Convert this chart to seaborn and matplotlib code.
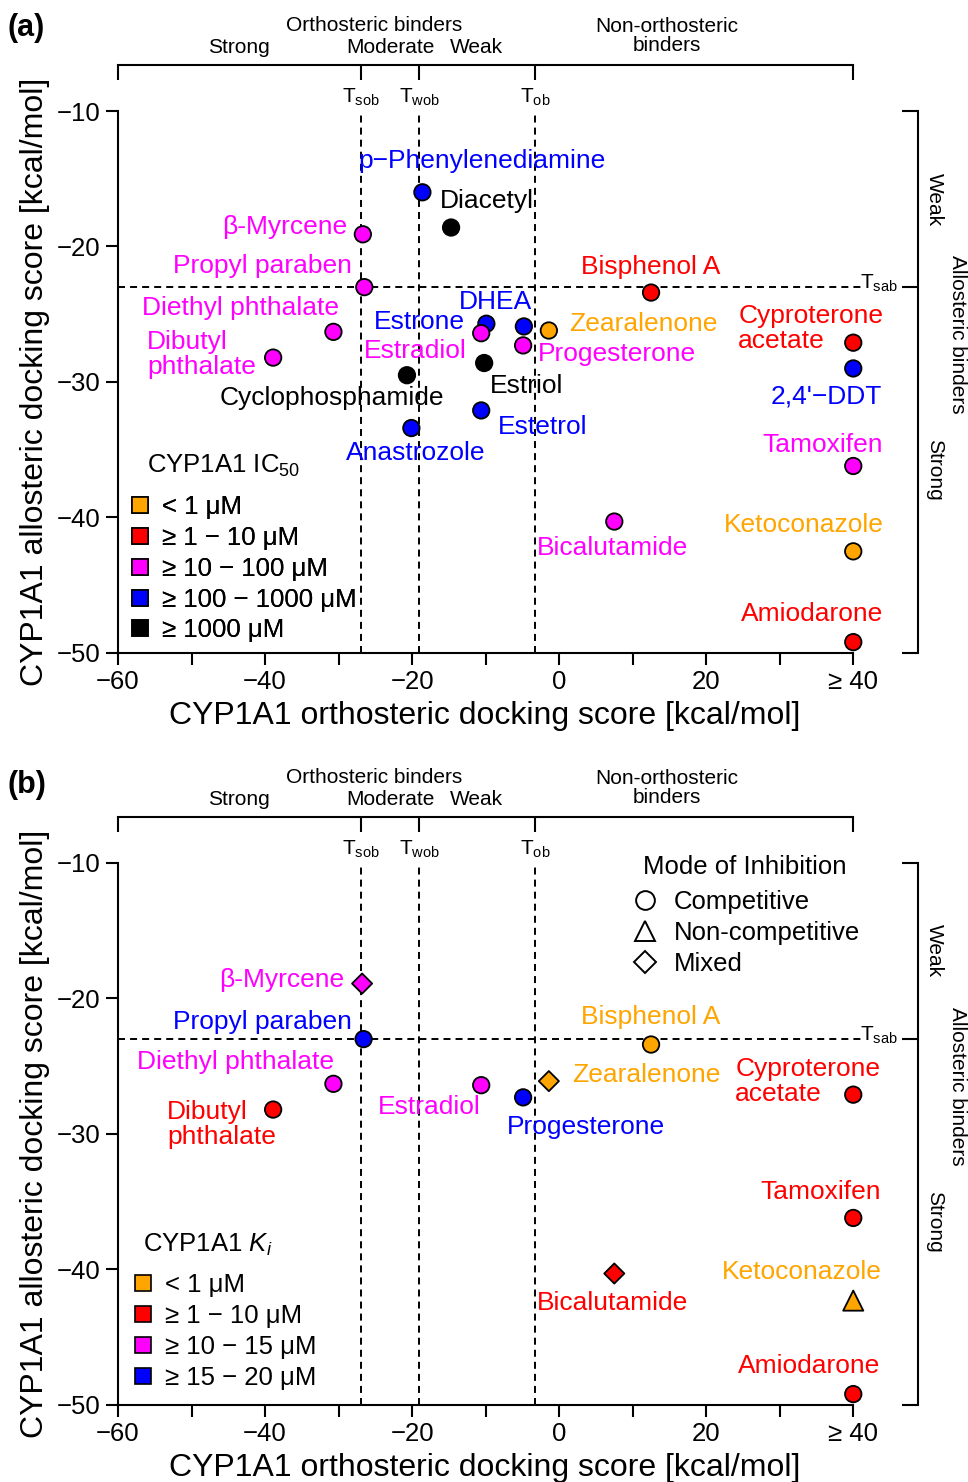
import matplotlib
matplotlib.use("Agg")
import matplotlib.pyplot as plt
import seaborn as sns
import pandas as pd
from matplotlib.lines import Line2D

# thresholds (kcal/mol)
T_SOB = -27.0
T_WOB = -19.0
T_OB = -3.3
T_SAB = -23.0

# panel (a): IC50
a_names = ["p−Phenylenediamine", "Diacetyl", "β-Myrcene", "Propyl paraben", "Diethyl phthalate",
           "Dibutyl\nphthalate", "Estrone", "Estradiol", "DHEA", "Zearalenone", "Progesterone",
           "Estriol", "Cyclophosphamide", "Estetrol", "Anastrozole", "Bisphenol A",
           "Cyproterone\nacetate", "2,4'−DDT", "Tamoxifen", "Bicalutamide", "Ketoconazole", "Amiodarone"]
a_ortho = [-18.6, -14.7, -26.7, -26.5, -30.7, -38.9, -9.9, -10.6, -4.8, -1.4, -4.9,
           -10.2, -20.7, -10.6, -20.1, 12.5, 40, 40, 40, 7.5, 40, 40]
a_allo = [-16.0, -18.6, -19.1, -23.0, -26.3, -28.2, -25.7, -26.4, -25.9, -26.2, -27.3,
          -28.6, -29.5, -32.1, -33.4, -23.4, -27.1, -29.0, -36.2, -40.3, -42.5, -49.2]
a_ic50 = ["100-1000", ">1000", "10-100", "10-100", "10-100", "10-100", "100-1000", "10-100",
          "100-1000", "<1", "10-100", ">1000", ">1000", "100-1000", "100-1000", "1-10",
          "1-10", "100-1000", "10-100", "10-100", "<1", "1-10"]
a_classes = ["<1", "1-10", "10-100", "100-1000", ">1000"]
a_class_labels = ["< 1 μM", "≥ 1 − 10 μM", "≥ 10 − 100 μM", "≥ 100 − 1000 μM", "≥ 1000 μM"]

# panel (b): Ki and mode of inhibition
b_names = ["β-Myrcene", "Propyl paraben", "Bisphenol A", "Diethyl phthalate", "Dibutyl\nphthalate",
           "Estradiol", "Progesterone", "Zearalenone", "Cyproterone\nacetate", "Tamoxifen",
           "Bicalutamide", "Ketoconazole", "Amiodarone"]
b_ortho = [-26.8, -26.6, 12.5, -30.7, -38.9, -10.6, -4.9, -1.4, 40, 40, 7.5, 40, 40]
b_allo = [-18.9, -23.0, -23.4, -26.3, -28.2, -26.4, -27.3, -26.1, -27.1, -36.2, -40.3, -42.3, -49.2]
b_ki = ["10-15", "15-20", "<1", "10-15", "1-10", "10-15", "15-20", "<1", "1-10", "1-10",
        "1-10", "<1", "1-10"]
b_mode = ["Mixed", "Competitive", "Competitive", "Competitive", "Competitive", "Competitive",
          "Competitive", "Mixed", "Competitive", "Competitive", "Mixed", "Non-competitive", "Competitive"]
b_classes = ["<1", "1-10", "10-15", "15-20"]
b_class_labels = ["< 1 μM", "≥ 1 − 10 μM", "≥ 10 − 15 μM", "≥ 15 − 20 μM"]
modes = ["Competitive", "Non-competitive", "Mixed"]

xtick_vals = [-60, -50, -40, -30, -20, -10, 0, 10, 20, 30, 40]
xtick_labels = ["−60", "", "−40", "", "−20", "", "0", "", "20", "", "≥ 40"]
ytick_vals = [-10, -20, -30, -40, -50]
ytick_labels = ["−10", "−20", "−30", "−40", "−50"]

ORANGE, RED, MAGENTA, BLUE = "#FFA500", "#FF0000", "#FF00FF", "#0000FF"
pal_a = {"<1": ORANGE, "1-10": RED, "10-100": MAGENTA, "100-1000": BLUE, ">1000": "black"}
pal_b = {"<1": ORANGE, "1-10": RED, "10-15": MAGENTA, "15-20": BLUE}
mode_markers = {"Competitive": "o", "Non-competitive": "^", "Mixed": "D"}
mode_sizes = {"Competitive": 140, "Non-competitive": 210, "Mixed": 105}

# label offsets in pixels (dx, dy, ha)
a_offsets = {
    "p−Phenylenediamine": (-64, 31, "left"), "Diacetyl": (-11, 27, "left"),
    "β-Myrcene": (-16, 7, "right"), "Propyl paraben": (-12, 21, "right"),
    "Diethyl phthalate": (6, 24, "right"), "Dibutyl\nphthalate": (-17, 3, "right"),
    "Estrone": (-21, 2, "right"), "Estradiol": (-15, -18, "right"), "DHEA": (8, 24, "right"),
    "Zearalenone": (20, 6, "left"), "Progesterone": (15, -9, "left"), "Estriol": (6, -23, "left"),
    "Cyclophosphamide": (-75, -23, "center"), "Estetrol": (17, -17, "left"),
    "Anastrozole": (4, -25, "center"), "Bisphenol A": (0, 26, "center"),
    "Cyproterone\nacetate": (30, 14, "right"), "2,4'−DDT": (29, -28, "right"),
    "Tamoxifen": (30, 21, "right"), "Bicalutamide": (-2, -26, "center"),
    "Ketoconazole": (30, 26, "right"), "Amiodarone": (30, 28, "right"),
}
b_offsets = {
    "β-Myrcene": (-18, 4, "right"), "Propyl paraben": (-12, 17, "right"),
    "Bisphenol A": (0, 28, "center"), "Diethyl phthalate": (1, 22, "right"),
    "Dibutyl\nphthalate": (3, -15, "right"), "Estradiol": (-1, -22, "right"),
    "Progesterone": (-16, -30, "left"), "Zearalenone": (23, 6, "left"),
    "Cyproterone\nacetate": (27, 13, "right"), "Tamoxifen": (28, 26, "right"),
    "Bicalutamide": (-2, -29, "center"), "Ketoconazole": (28, 29, "right"),
    "Amiodarone": (27, 28, "right"),
}

sns.set_style("ticks")
plt.rcParams["font.family"] = ["Liberation Sans", "DejaVu Sans"]
plt.rcParams["mathtext.fontset"] = "custom"
plt.rcParams["mathtext.rm"] = "Liberation Sans"
plt.rcParams["mathtext.it"] = "Liberation Sans:italic"
for k in ["text.color", "axes.labelcolor", "xtick.color", "ytick.color", "axes.edgecolor"]:
    plt.rcParams[k] = "black"

LW = 1.5
fig = plt.figure(figsize=(9.68, 14.82), dpi=100)
ax_a = fig.add_axes([0.1219, 0.5594, 0.8264, 0.3657])
ax_b = fig.add_axes([0.1219, 0.0520, 0.8264, 0.3657])


def decorate(ax):
    ax.set_xlim(-60, 48.8)
    ax.set_ylim(-50, -10)
    dash = dict(color="black", lw=1.4, linestyle=(0, (3.6, 2.6)), zorder=1)
    for t in [T_SOB, T_WOB, T_OB]:
        ax.axvline(t, **dash)
    ax.plot([-60, 41.2], [T_SAB, T_SAB], **dash)

    ax.spines[["top", "right"]].set_visible(False)
    ax.spines["bottom"].set_bounds(-60, 40)
    for s in ["left", "bottom"]:
        ax.spines[s].set_linewidth(LW)
    ax.set_xticks(xtick_vals)
    ax.set_xticklabels(xtick_labels)
    ax.set_yticks(ytick_vals)
    ax.set_yticklabels(ytick_labels)
    ax.tick_params(length=8.6, width=LW, labelsize=18.5, pad=4)

    # top bracket: orthosteric classes
    ax_t = ax.twiny()
    ax_t.set_xlim(ax.get_xlim())
    for s in ["left", "right", "bottom"]:
        ax_t.spines[s].set_visible(False)
    ax_t.spines["top"].set_position(("outward", 33))
    ax_t.spines["top"].set_bounds(-60, 40)
    ax_t.spines["top"].set_linewidth(LW)
    ax_t.set_xticks([-60, T_SOB, T_WOB, T_OB, 40])
    ax_t.tick_params(axis="x", direction="in", length=11, width=LW, labeltop=False)

    # right bracket: allosteric classes
    ax_r = ax.twinx()
    ax_r.set_ylim(ax.get_ylim())
    for s in ["left", "top", "bottom"]:
        ax_r.spines[s].set_visible(False)
    ax_r.spines["right"].set_linewidth(LW)
    ax_r.set_yticks([-10, T_SAB, -50])
    ax_r.tick_params(axis="y", direction="in", length=11.5, width=LW, labelright=False)

    xt = ax.get_xaxis_transform()
    yt = ax.get_yaxis_transform()
    small = 15
    ax.text(-25.2, 1.157, "Orthosteric binders", transform=xt, ha="center", va="center", fontsize=small)
    ax.text(-43.5, 1.118, "Strong", transform=xt, ha="center", va="center", fontsize=small)
    ax.text(-23.0, 1.118, "Moderate", transform=xt, ha="center", va="center", fontsize=small)
    ax.text(-11.2, 1.118, "Weak", transform=xt, ha="center", va="center", fontsize=small)
    ax.text(14.7, 1.138, "Non-orthosteric\nbinders", transform=xt, ha="center", va="center",
            fontsize=small, linespacing=1.0)
    ax.text(T_SOB, 1.026, r"T$_{\mathrm{sob}}$", transform=xt, ha="center", va="center", fontsize=small)
    ax.text(T_WOB, 1.026, r"T$_{\mathrm{wob}}$", transform=xt, ha="center", va="center", fontsize=small)
    ax.text(T_OB, 1.026, r"T$_{\mathrm{ob}}$", transform=xt, ha="center", va="center", fontsize=small)
    ax.text(0.975, T_SAB + 0.3, r"T$_{\mathrm{sab}}$", transform=yt, ha="right", va="center", fontsize=small)
    ax.text(1.021, -16.5, "Weak", transform=yt, ha="center", va="center", rotation=-90, fontsize=small)
    ax.text(1.021, -36.5, "Strong", transform=yt, ha="center", va="center", rotation=-90, fontsize=small)
    ax.text(1.050, -26.5, "Allosteric binders", transform=yt, ha="center", va="center",
            rotation=-90, fontsize=small)


def axis_labels(ax):
    ax.set_xlabel("CYP1A1 orthosteric docking score [kcal/mol]", fontsize=23)
    ax.set_ylabel("CYP1A1 allosteric docking score [kcal/mol]", fontsize=23)
    ax.xaxis.set_label_coords(0.459, -0.088)
    ax.yaxis.set_label_coords(-0.085, 0.5)


def annotate(ax, names, xs, ys, cats, pal, offsets):
    for name, x, y, c in zip(names, xs, ys, cats):
        dx, dy, ha = offsets[name]
        ax.annotate(name, (x, y), xytext=(dx, dy), textcoords="offset pixels", ha=ha, va="center",
                    color=pal[c], fontsize=19, linespacing=1.07, multialignment="left", zorder=4)


def square_legend(ax, classes, labels, pal, anchor, title, title_xy):
    handles = [Line2D([], [], marker="s", linestyle="none", markersize=12, markerfacecolor=pal[c],
                      markeredgecolor="black", markeredgewidth=1.2) for c in classes]
    leg = ax.legend(handles, labels, loc="upper left", bbox_to_anchor=anchor, frameon=False,
                    fontsize=18.5, handlelength=0.8, handletextpad=0.45, labelspacing=0.27,
                    borderpad=0, borderaxespad=0)
    ax.add_artist(leg)
    ax.text(title_xy[0], title_xy[1], title, transform=ax.get_yaxis_transform(), ha="left",
            va="center", fontsize=18.5)


# ---- panel (a)
df_a = pd.DataFrame({"ortho": a_ortho, "allo": a_allo, "ic50": a_ic50})
decorate(ax_a)
sns.scatterplot(data=df_a, x="ortho", y="allo", hue="ic50", palette=pal_a, s=140,
                edgecolor="black", linewidth=1.3, legend=False, ax=ax_a, zorder=3, clip_on=False)
axis_labels(ax_a)
annotate(ax_a, a_names, a_ortho, a_allo, a_ic50, pal_a, a_offsets)
square_legend(ax_a, a_classes, a_class_labels, pal_a, (0.015, 0.292),
              r"CYP1A1 IC$_{50}$", (0.036, -36.2))

# ---- panel (b)
df_b = pd.DataFrame({"ortho": b_ortho, "allo": b_allo, "ki": b_ki, "mode": b_mode})
decorate(ax_b)
sns.scatterplot(data=df_b, x="ortho", y="allo", hue="ki", palette=pal_b, style="mode",
                markers=mode_markers, size="mode", sizes=mode_sizes, edgecolor="black",
                linewidth=1.3, legend=False, ax=ax_b, zorder=3, clip_on=False)
axis_labels(ax_b)
annotate(ax_b, b_names, b_ortho, b_allo, b_ki, pal_b, b_offsets)
square_legend(ax_b, b_classes, b_class_labels, pal_b, (0.019, 0.244),
              r"CYP1A1 $K_i$", (0.031, -38.2))

mode_handles = [Line2D([], [], marker=mode_markers[m], linestyle="none",
                       markersize={"o": 13.5, "^": 14, "D": 11}[mode_markers[m]],
                       markerfacecolor="white", markeredgecolor="black", markeredgewidth=1.4)
                for m in modes]
leg = ax_b.legend(mode_handles, modes, loc="upper left", bbox_to_anchor=(0.646, 0.950),
                  frameon=False, fontsize=18.5, handlelength=0.8, handletextpad=0.72,
                  labelspacing=0.27, borderpad=0, borderaxespad=0)
ax_b.text(0.656, -10.3, "Mode of Inhibition", transform=ax_b.get_yaxis_transform(), ha="left",
          va="center", fontsize=18.5)

fig.text(0.008, 0.981, "(a)", fontsize=22, fontweight="bold", ha="left", va="center")
fig.text(0.008, 0.4703, "(b)", fontsize=22, fontweight="bold", ha="left", va="center")

fig.savefig("out.png", dpi=100)
